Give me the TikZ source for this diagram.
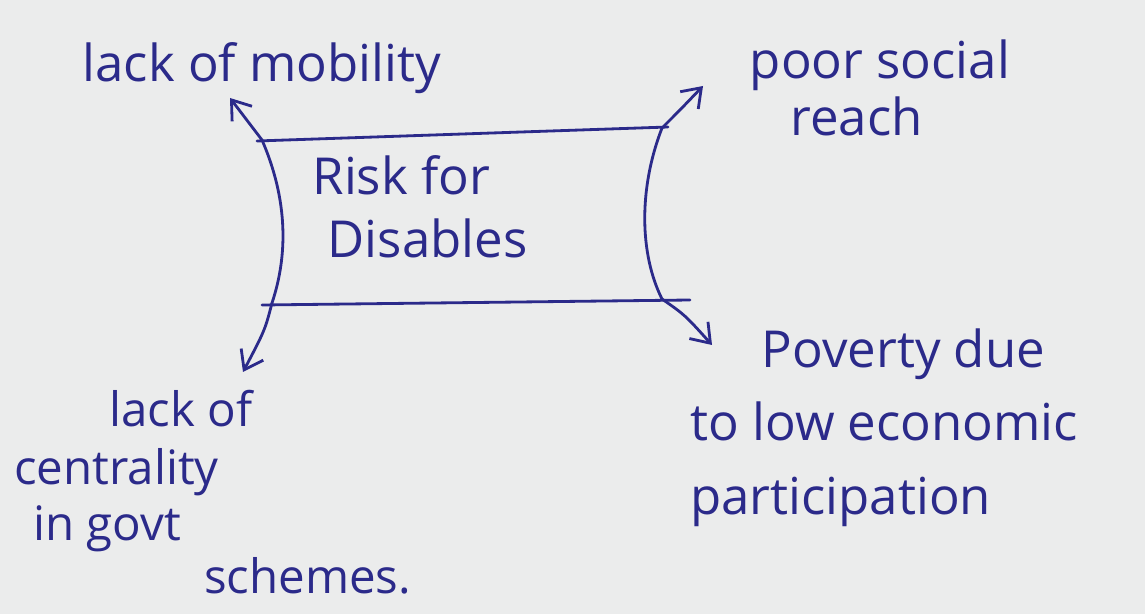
\documentclass[tikz,border=0pt]{standalone}
\usepackage{fontspec}
\setmainfont{Open Sans}
\usetikzlibrary{arrows.meta}
\definecolor{ink}{HTML}{2B2A8A}
\definecolor{paper}{HTML}{EBECEC}
\begin{document}
\begin{tikzpicture}[x=0.02cm,y=-0.02cm,
  pen/.style={draw=ink,line width=1.6pt,line cap=round,line join=round},
  barb/.style={pen,-{Straight Barb[length=3.5mm,width=5mm,line width=1.6pt]}},
  hand/.style={text=ink,font=\fontsize{29}{40}\selectfont,inner sep=0pt},
  note/.style={hand,align=left}]
  \fill[paper] (0,0) rectangle (1145,614);
  \useasboundingbox (0,0) rectangle (1145,614);

  % corners of the central box
  \coordinate (tl) at (262,140);
  \coordinate (tr) at (662,128);
  \coordinate (bl) at (272,303);
  \coordinate (br) at (662,299);
  % arrow tips
  \coordinate (tipa) at (230,98);
  \coordinate (tipb) at (703,86);
  \coordinate (tipc) at (243,372);
  \coordinate (tipd) at (712,345);

  % box edges
  \draw[pen] (257,141) -- (668,127);
  \draw[pen] (262,305) -- (690,300);
  \draw[pen] (tl) .. controls (288,200) and (288,255) .. (bl);
  \draw[pen] (tr) .. controls (638,190) and (640,255) .. (br);

  % arrows out of the corners
  \draw[barb] (tl) -- (tipa);
  \draw[barb] (tr) .. controls (680,110) .. (tipb);
  \draw[barb] (bl) .. controls (265,330) .. (tipc);
  \draw[barb] (br) .. controls (685,315) .. (tipd);

  % texts
  \node[hand] (centre) at (420,212) {\begin{tabular}{@{}l@{}}Risk for\\[-4pt]\hspace*{0.3em}Disables\end{tabular}};
  \node[hand] (mob) at (262,68) {lack of mobility};
  \node[note] (social) at (880,88) {poor social\\[-8pt]\hspace*{0.8em}reach};
  \node[note,anchor=north west,font=\fontsize{27}{29}\selectfont] (central) at (14,390)
    {\hspace*{2em}lack of\\[4pt]centrality\\[3pt]\hspace*{0.4em}in govt\\[1pt]\hspace*{4em}schemes.};
  \node[note,anchor=north west] (poverty) at (690,328) {\hspace*{1.4em}Poverty due\\[2pt]to low economic\\[2pt]participation};
\end{tikzpicture}
\end{document}
